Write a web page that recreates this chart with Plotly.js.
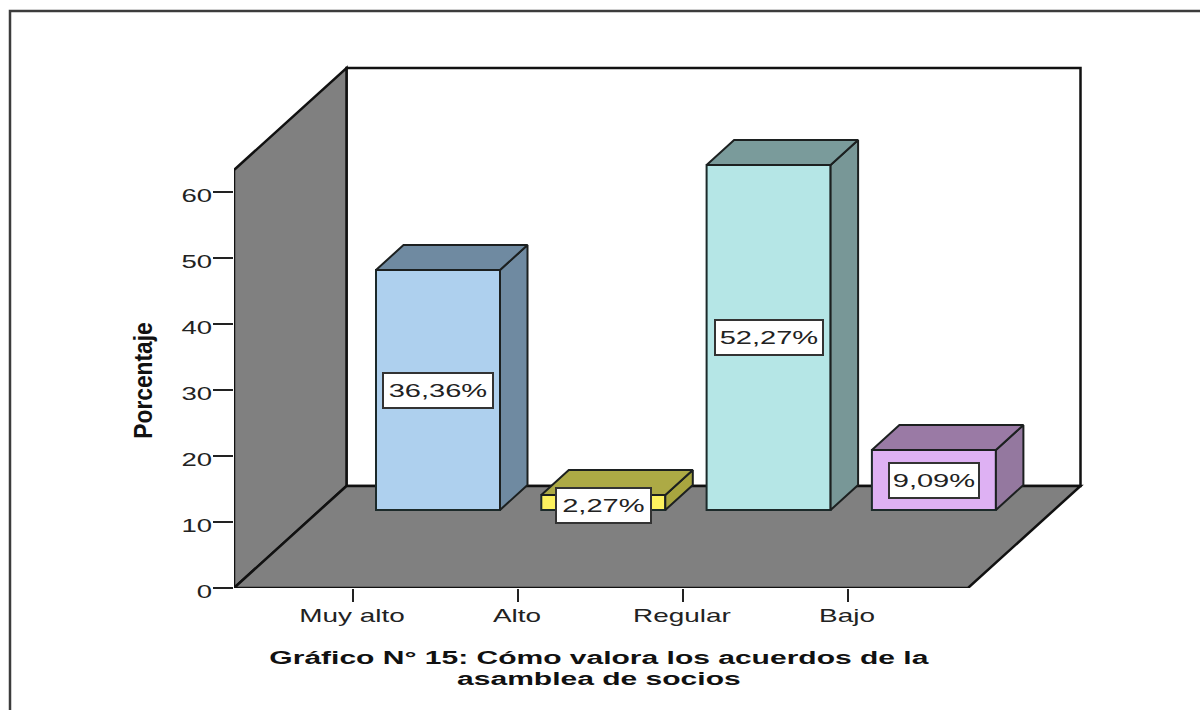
<!DOCTYPE html>
<html>
<head>
<meta charset="utf-8">
<script src="https://cdn.plot.ly/plotly-3.0.1.min.js"></script>
<style>html,body{margin:0;padding:0;background:#fff}#c{width:1200px;height:710px}</style>
</head>
<body>
<div id="c"></div>
<script>
const categories = ["Muy alto", "Alto", "Regular", "Bajo"];
const values = [36.36, 2.27, 52.27, 9.09];
const valueLabels = ["36,36%", "2,27%", "52,27%", "9,09%"];
const yTicks = [0, 10, 20, 30, 40, 50, 60];
const frontColors = ["#aed0ee", "#fdf25f", "#b5e6e6", "#deb1f3"];
const sideColors = ["#6f8aa1", "#a8a53f", "#789797", "#94789f"];
const topColors = ["#6f8aa1", "#adaa45", "#7a9b9b", "#9a7aa5"];
const labelWidths = [106, 91, 104, 86];
const titleText = "Gráfico N° 15: Cómo valora los acuerdos de la<br>asamblea de socios";
const FONT = "Liberation Sans, Arial, sans-serif";

// geometry in axis units: 165.3px per category, 6.6px per percent
const PX = 165.3, PY = 6.6;
const L = 234, B = 588, R = 1090, T = 60;
const xOf = p => (p - 353) / PX;
const yOf = p => (B - p) / PY;
const tickStep = 165 / PX;
const wallDx = 112.5 / PX, wallDy = 102 / PY;
const xLeft = xOf(234), xRightFront = xOf(968);
const wallTop = yOf(170);
const barDx = 85 / PX, barBase = 78 / PY, barW = 124 / PX;
const depthX = 27.5 / PX, depthY = 25 / PY;

function poly(pts, fill, w) {
  return {type: "path", xref: "x", yref: "y", layer: "below",
    path: "M" + pts.map(p => p[0] + "," + p[1]).join("L") + "Z",
    fillcolor: fill, line: {color: "#111", width: w}};
}
const px = v => (v - L) / (R - L), py = v => (B - v) / (B - T);
const shapes = [
  poly([[xLeft + wallDx, wallDy], [xRightFront + wallDx, wallDy], [xRightFront + wallDx, wallTop + wallDy], [xLeft + wallDx, wallTop + wallDy]], "#ffffff", 2.5),
  poly([[xLeft, 0], [xLeft + wallDx, wallDy], [xLeft + wallDx, wallTop + wallDy], [xLeft, wallTop]], "#808080", 2.5),
  poly([[xLeft, 0], [xRightFront, 0], [xRightFront + wallDx, wallDy], [xLeft + wallDx, wallDy]], "#808080", 2.5),
  {type: "path", xref: "paper", yref: "paper", layer: "below",
   path: `M${px(10)},${py(760)}L${px(10)},${py(11)}L${px(1210)},${py(11)}`,
   line: {color: "#3c3c3c", width: 2.5}}
];

const traces = [{
  type: "bar",
  x: categories.map((c, i) => i + barDx),
  y: values,
  base: categories.map(() => barBase),
  width: barW,
  marker: {color: frontColors, line: {color: "#1c2a2a", width: 2}},
  hoverinfo: "skip", showlegend: false
}];
categories.forEach((c, i) => {
  const x0 = i + barDx - barW / 2, x1 = i + barDx + barW / 2;
  const y0 = barBase, y1 = barBase + values[i];
  traces.push({type: "scatter", mode: "lines", fill: "toself", fillcolor: sideColors[i],
    line: {color: "#1c2020", width: 2}, hoverinfo: "skip", showlegend: false,
    x: [x1, x1 + depthX, x1 + depthX, x1, x1], y: [y0, y0 + depthY, y1 + depthY, y1, y0]});
  traces.push({type: "scatter", mode: "lines", fill: "toself", fillcolor: topColors[i],
    line: {color: "#1c2020", width: 2}, hoverinfo: "skip", showlegend: false,
    x: [x0, x0 + depthX, x1 + depthX, x1, x0], y: [y1, y1 + depthY, y1 + depthY, y1, y1]});
});

const labelY = [barBase + values[0] / 2, yOf(505), barBase + values[2] / 2, barBase + values[3] / 2];
const annotations = categories.map((c, i) => ({
  x: i + barDx, y: labelY[i], xref: "x", yref: "y", text: valueLabels[i], showarrow: false,
  width: labelWidths[i], height: 31, align: "center", valign: "middle",
  bgcolor: "#ffffff", bordercolor: "#333", borderwidth: 2, borderpad: 1,
  font: {family: FONT, size: 19, color: "#222"}
}));

const layout = {
  width: 1200, height: 710,
  paper_bgcolor: "#ffffff", plot_bgcolor: "rgba(0,0,0,0)",
  margin: {l: L, r: 1200 - R, t: T, b: 710 - B, pad: 0},
  showlegend: false,
  xaxis: {
    type: "linear", range: [xOf(L), xOf(R)], tickmode: "array",
    tickvals: categories.map((c, i) => i * tickStep), ticktext: categories,
    ticks: "outside", ticklen: 13, tickwidth: 2, tickcolor: "#222",
    showgrid: false, zeroline: false, showline: false, fixedrange: true,
    tickfont: {family: FONT, size: 19, color: "#222"},
    title: {text: titleText, standoff: 20, font: {family: FONT, size: 19, color: "#111", weight: "bold"}}
  },
  yaxis: {
    range: [0, yOf(T)], tickmode: "array", tickvals: yTicks,
    ticks: "outside", ticklen: 20, tickwidth: 2, tickcolor: "#222",
    showgrid: false, zeroline: false, showline: false, fixedrange: true,
    tickfont: {family: FONT, size: 19, color: "#222"},
    title: {text: "Porcentaje", standoff: 30, font: {family: FONT, size: 25, color: "#111", weight: "bold"}}
  },
  shapes: shapes,
  annotations: annotations
};

// The reference image is stretched horizontally: widen the real text to match.
function stretch(el, sx, frac, dx, dy) {
  const b = el.getBBox();
  const ax = b.x + b.width * frac;
  const prev = el.getAttribute("transform") || "";
  el.setAttribute("transform", `translate(${dx},${dy}) ${prev} translate(${ax},0) scale(${sx},1) translate(${-ax},0)`);
}
function moveTo(el, cx, cy) {
  const r = el.getBoundingClientRect();
  const prev = el.getAttribute("transform") || "";
  el.setAttribute("transform", `translate(${cx - (r.left + r.right) / 2},${cy - (r.top + r.bottom) / 2}) ${prev}`);
}
Plotly.newPlot("c", traces, layout, {displayModeBar: false, staticPlot: true}).then(gd => {
  gd.querySelectorAll(".xtick text").forEach(t => stretch(t, 1.47, 0.5, -1, -3));
  gd.querySelectorAll(".ytick text").forEach(t => stretch(t, 1.45, 1, 3, 3));
  gd.querySelectorAll(".annotation-text").forEach(t => stretch(t, 1.53, 0.5, 0, 0));
  const xt = gd.querySelector(".xtitle");
  if (xt) {
    xt.querySelectorAll("tspan.line").forEach((s, i) => s.setAttribute("dy", (i * 21) + "px"));
    stretch(xt, 1.58, 0.5, 0, 0);
    moveTo(xt, 599.5, 667.5);
  }
  const yt = gd.querySelector(".ytitle");
  if (yt) {
    stretch(yt, 0.91, 0.5, 0, 0);
    moveTo(yt, 143, 380.5);
  }
});
</script>
</body>
</html>
